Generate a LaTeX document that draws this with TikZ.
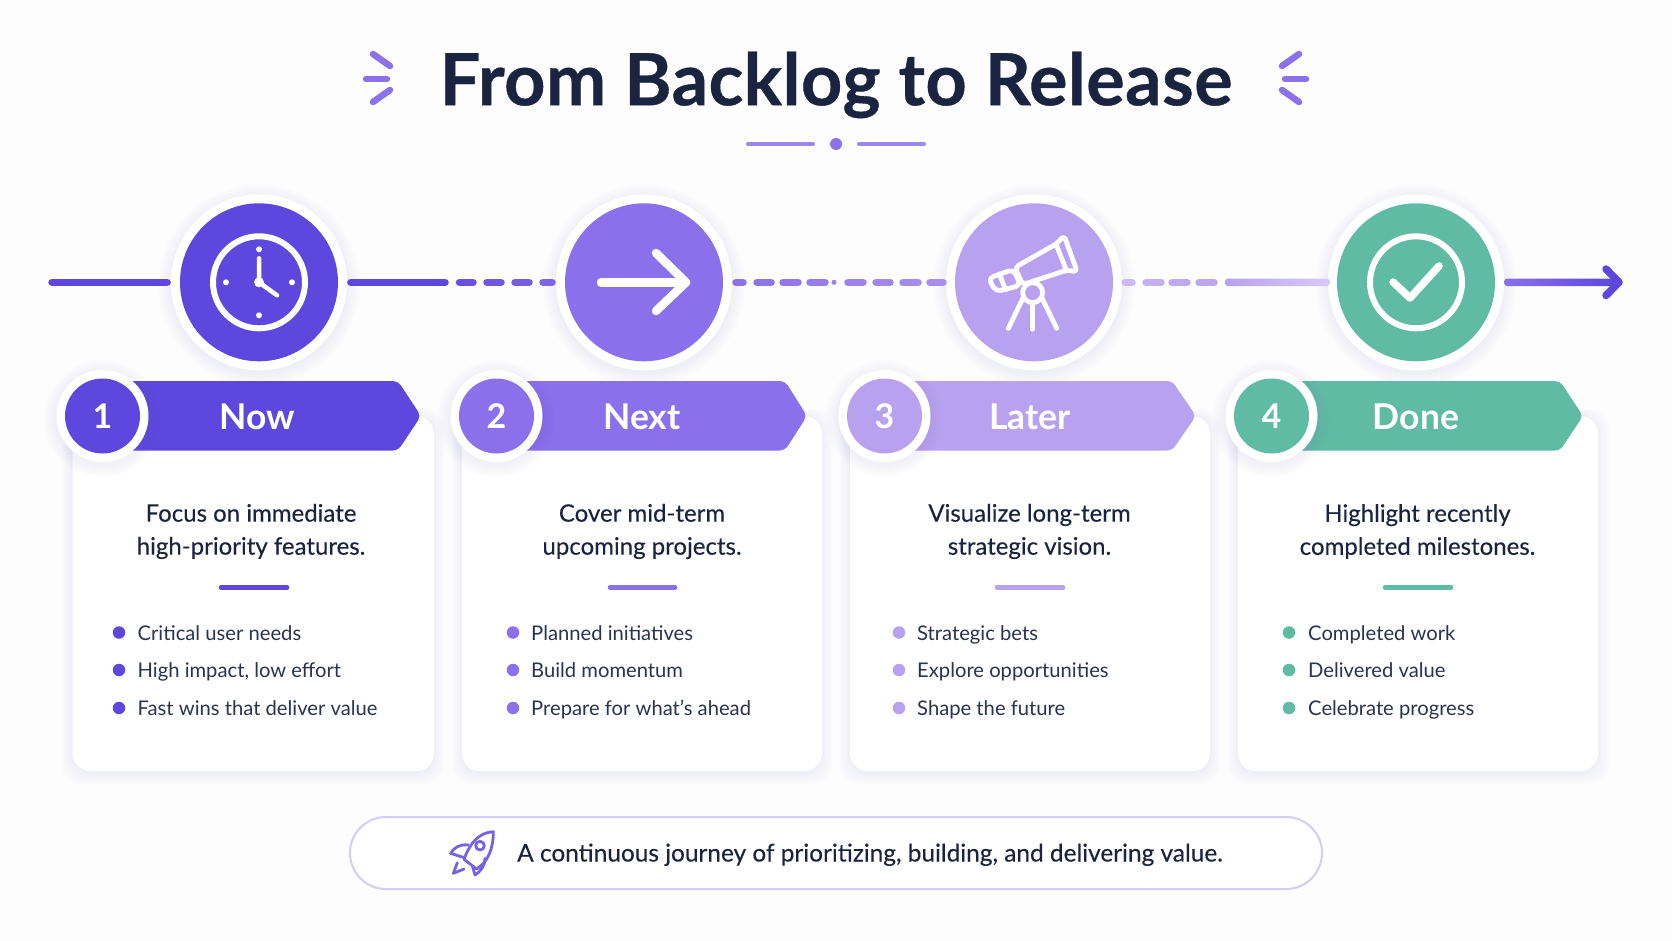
\documentclass[tikz,border=0pt]{standalone}
\usepackage{fontspec}
\setmainfont{Lato}
\newfontfamily\titlefont[FakeBold=0.5,LetterSpace=0.6]{Lato Bold}
\newfontfamily\medfont[FakeBold=0.2]{Lato}
\usetikzlibrary{calc}
\definecolor{nowc}{HTML}{5D47DD}
\definecolor{nextc}{HTML}{8A70EA}
\definecolor{laterc}{HTML}{B8A1EF}
\definecolor{donec}{HTML}{5FBBA3}
\definecolor{inkc}{HTML}{1A2440}
\definecolor{bodyc}{HTML}{2A3350}
\definecolor{deco}{HTML}{8B72EA}
\definecolor{pillc}{HTML}{D5CDF4}
\definecolor{shadowc}{HTML}{6A62A8}
\definecolor{paperc}{HTML}{FDFDFE}
\tikzset{
  pagebg/.style={fill=paperc,draw=none},
  cardbox/.style={fill=white,draw=none,rounded corners=18pt,inner sep=0pt},
  halo/.style={circle,fill=white,inner sep=0pt,minimum size=176pt},
  disc/.style={circle,inner sep=0pt,minimum size=158pt},
  badgehalo/.style={circle,fill=white,inner sep=0pt,minimum size=92pt},
  badgedisc/.style={circle,inner sep=0pt,minimum size=75pt,text=white,font=\fontsize{34}{36}\selectfont\bfseries},
  bannertext/.style={text=white,font=\fontsize{35.5}{38}\selectfont\bfseries,inner sep=0pt},
  headline/.style={text=inkc,align=center,font=\medfont\fontsize{24}{33}\selectfont,inner sep=0pt},
  bullettext/.style={text=bodyc,anchor=base west,font=\fontsize{20.2}{24}\selectfont,inner sep=0pt},
  bulletdot/.style={circle,inner sep=0pt,minimum size=12.5pt},
  rulebar/.style={line width=4.5pt,line cap=round},
  timeline/.style={line width=7.5pt,line cap=round},
  iconline/.style={draw=white,line cap=round,line join=round},
  decoline/.style={draw=deco,line width=6.5pt,line cap=round},
  underl/.style={draw=deco!85!white,line width=4pt,line cap=round},
}
\newcommand{\softdisc}[3]{%
  \foreach \d in {1,...,7}{\fill[shadowc,opacity=0.012] (#1,#2+3) circle[radius=#3+\d*1.8pt];}}
\newcommand{\cardshadow}[4]{%
  \foreach \d in {1,...,7}{\fill[shadowc,opacity=0.008,rounded corners=20pt]
     ($(#1,#2)+(-\d*1.6,-\d*1.0)$) rectangle ($(#3,#4)+(\d*1.6,\d*1.6+2)$);}}
\newcommand{\bannerpath}[4]{%
  \fill[#4,rounded corners=5pt] (#1,381) -- (#2,381) -- (#3,416) -- (#2,450.5) -- (#1,450.5) -- cycle;}
\begin{document}
\begin{tikzpicture}[x=1pt,y=-1pt]
\useasboundingbox (0,0) rectangle (1672,941);
\fill[pagebg] (0,0) rectangle (1672,941);

% cards
\cardshadow{72.5}{416}{434}{771}
\cardshadow{462}{416}{822}{771}
\cardshadow{850}{416}{1210}{771}
\cardshadow{1238}{416}{1598}{771}
\node[cardbox,minimum width=361.5pt,minimum height=355pt] (card1) at (253.25,593.5) {};
\node[cardbox,minimum width=360pt,minimum height=355pt] (card2) at (642,593.5) {};
\node[cardbox,minimum width=360pt,minimum height=355pt] (card3) at (1030,593.5) {};
\node[cardbox,minimum width=360pt,minimum height=355pt] (card4) at (1418,593.5) {};

% halos
\softdisc{259}{282}{88pt}
\softdisc{644}{282}{88pt}
\softdisc{1034}{282}{88pt}
\softdisc{1416}{282}{88pt}
\node[halo] (h1) at (259,282.3) {};
\node[halo] (h2) at (644,282.3) {};
\node[halo] (h3) at (1034,282.3) {};
\node[halo] (h4) at (1416,282.3) {};
\node[disc,fill=nowc] (c1) at (h1) {};
\node[disc,fill=nextc] (c2) at (h2) {};
\node[disc,fill=laterc] (c3) at (h3) {};
\node[disc,fill=donec] (c4) at (h4) {};

% timeline
\coordinate (tstart) at (52,282.3);
\coordinate (tsolid) at (445,282.3);
\coordinate (ttip) at (1619,282.3);
\draw[timeline,nowc,shorten >=3.7pt] (tstart) -- (h1.west);
\draw[timeline,nowc,shorten <=3.7pt] (h1.east) -- (tsolid);
\foreach \a/\b/\p in {459.5/473/75,487/501/60,515/529/45,543/552/30}
  \draw[timeline,nowc!\p!nextc] (\a,282.3) -- (\b,282.3);
\foreach \a/\b/\p in {736/743/100,757/771/90,783/798/82,810/825/74,848/863/62,876/890/54,903/918/46,930/943/40}
  \draw[timeline,nextc!\p!laterc] (\a,282.3) -- (\b,282.3);
\fill[nextc!68!laterc] (834,282.3) circle[radius=2.5pt];
\foreach \a/\b/\p in {1125/1132/75,1146/1161/85,1172/1187/90,1199/1214/95}
  \draw[timeline,laterc!\p!white] (\a,282.3) -- (\b,282.3);
\shade[left color=laterc,right color=laterc!55!white,rounded corners=3pt] (1225,278.5) rectangle (1330,286.1);
\shade[left color=nextc,right color=nowc,rounded corners=3pt] (h4.east|-0,278.5) rectangle (1615,286.1);
\draw[line width=7.5pt,line cap=round,line join=round,nowc] (1606,269) -- (ttip) -- (1606,295.5);

% clock icon
\draw[iconline,line width=6pt] (c1) circle[radius=46pt];
\draw[iconline,line width=4.5pt] (c1.center) ++(0,-24) -- (c1.center) -- ++(18,13);
\fill[white] (c1.center) circle[radius=5pt];
\foreach \dx/\dy in {0/-33,0/33,-33/0,33/0}
  \fill[white] ($(c1.center)+(\dx,\dy)$) circle[radius=3pt];

% arrow icon
\draw[iconline,line width=8.5pt] (c2.center) ++(-43,0) -- ++(85,0);
\draw[iconline,line width=8.5pt] (656,253) -- (686,282.3) -- (656,311);

% telescope icon
\begin{scope}[xshift=960pt,yshift=-210pt,x=0.3333pt,y=-0.3333pt,line width=4.8pt]
  \draw[iconline] (218,248) circle[radius=30];
  \draw[iconline] (190,262) -- (145,355);
  \draw[iconline] (218,278) -- (218,358);
  \draw[iconline] (245,262) -- (290,355);
  \draw[iconline,fill=laterc,rounded corners=5pt] (85,205) -- (160,178) -- (182,226) -- (108,245) -- cycle;
  \draw[iconline] (118,192) -- (137,240);
  \draw[iconline,fill=laterc,rounded corners=4pt] (165,172) -- (292,100) -- (312,76) -- (352,186) -- (322,180) -- (188,224) -- cycle;
  \draw[iconline] (288,102) -- (318,178);
\end{scope}

% check icon
\draw[iconline,line width=6pt] (c4) circle[radius=46pt];
\draw[iconline,line width=7.5pt] (1393,282) -- (1410,298) -- (1439,266);

% banners
\bannerpath{102}{398}{421}{nowc}
\bannerpath{496}{785}{807}{nextc}
\bannerpath{884}{1172}{1196}{laterc}
\bannerpath{1271}{1560}{1583}{donec}
\node[bannertext] (b1) at (257,417) {Now};
\node[bannertext] (b2) at (642,417) {Next};
\node[bannertext] (b3) at (1030,417) {Later};
\node[bannertext] (b4) at (1416,417) {Done};
\softdisc{102}{416}{46pt}
\softdisc{496}{416}{46pt}
\softdisc{884}{416}{46pt}
\softdisc{1271}{416}{46pt}
\node[badgehalo] (bh1) at (102.5,416) {};
\node[badgehalo] (bh2) at (496.5,416) {};
\node[badgehalo] (bh3) at (884.5,416) {};
\node[badgehalo] (bh4) at (1271.5,416) {};
\node[badgedisc,fill=nowc] (n1) at (bh1) {1};
\node[badgedisc,fill=nextc] (n2) at (bh2) {2};
\node[badgedisc,fill=laterc] (n3) at (bh3) {3};
\node[badgedisc,fill=donec] (n4) at (bh4) {4};

% headlines
\node[headline] (t1) at (251,531.5) {Focus on immediate\\high-priority features.};
\node[headline] (t2) at (642,531.5) {Cover mid-term\\upcoming projects.};
\node[headline] (t3) at (1029.5,531.5) {Visualize long-term\\strategic vision.};
\node[headline] (t4) at (1417.5,531.5) {Highlight recently\\completed milestones.};

% rules
\draw[rulebar,nowc] (221,587.5) -- (287,587.5);
\draw[rulebar,nextc] (610,587.5) -- (675,587.5);
\draw[rulebar,laterc] (997,587.5) -- (1063,587.5);
\draw[rulebar,donec] (1385,587.5) -- (1451,587.5);

% bullets
\foreach \y/\tx/\i in {632.5/{Critical user needs}/a,670/{High impact, low effort}/b,708/{Fast wins that deliver value}/c}{
  \node[bulletdot,fill=nowc] (d1\i) at (119,\y) {};
  \node[bullettext] (e1\i) at (137.5,\y+7.5) {\tx};}
\foreach \y/\tx/\i in {632.5/{Planned initiatives}/a,670/{Build momentum}/b,708/{Prepare for what's ahead}/c}{
  \node[bulletdot,fill=nextc] (d2\i) at (513,\y) {};
  \node[bullettext] (e2\i) at (531,\y+7.5) {\tx};}
\foreach \y/\tx/\i in {632.5/{Strategic bets}/a,670/{Explore opportunities}/b,708/{Shape the future}/c}{
  \node[bulletdot,fill=laterc] (d3\i) at (899,\y) {};
  \node[bullettext] (e3\i) at (917,\y+7.5) {\tx};}
\foreach \y/\tx/\i in {632.5/{Completed work}/a,670/{Delivered value}/b,708/{Celebrate progress}/c}{
  \node[bulletdot,fill=donec] (d4\i) at (1289,\y) {};
  \node[bullettext] (e4\i) at (1308,\y+7.5) {\tx};}

% title
\node[text=inkc,inner sep=0pt,font=\titlefont\fontsize{72}{75}\selectfont] (title) at (836,85) {From Backlog to Release};
\draw[decoline] (373,54) -- (390,66);
\draw[decoline] (366,79) -- (387,79);
\draw[decoline] (373,102) -- (390,90);
\draw[decoline] (1299,54) -- (1282,66);
\draw[decoline] (1285,79) -- (1306,79);
\draw[decoline] (1299,102) -- (1282,90);
\draw[underl] (748,144) -- (813,144);
\draw[underl] (859,144) -- (924,144);
\node[circle,fill=deco,inner sep=0pt,minimum size=12pt] (udot) at (836,144) {};

% footer pill
\node[draw=pillc,line width=2pt,fill=white,rounded corners=36pt,minimum width=972pt,minimum height=72pt,inner sep=0pt] (pill) at (836,853) {};
\node[text=inkc,anchor=base west,inner sep=0pt,font=\medfont\fontsize{24.4}{28}\selectfont] (foot) at (517,861.5) {A continuous journey of prioritizing, building, and delivering value.};
\begin{scope}[xshift=440pt,yshift=-820pt,x=0.3333pt,y=-0.3333pt,line width=2.8pt,line join=round,line cap=round,draw=nowc!85!white]
  \draw (160,35) .. controls (115,38) and (90,70) .. (72,118) -- (110,147) .. controls (145,125) and (160,85) .. (160,35) -- cycle;
  \draw (120,77) circle[radius=13];
  \draw (85,75) .. controls (60,72) and (42,82) .. (32,100) -- (70,112);
  \draw (135,115) .. controls (136,135) and (122,155) .. (105,165) -- (97,137);
  \draw (52,128) -- (40,160) -- (72,147);
\end{scope}
\end{tikzpicture}
\end{document}
